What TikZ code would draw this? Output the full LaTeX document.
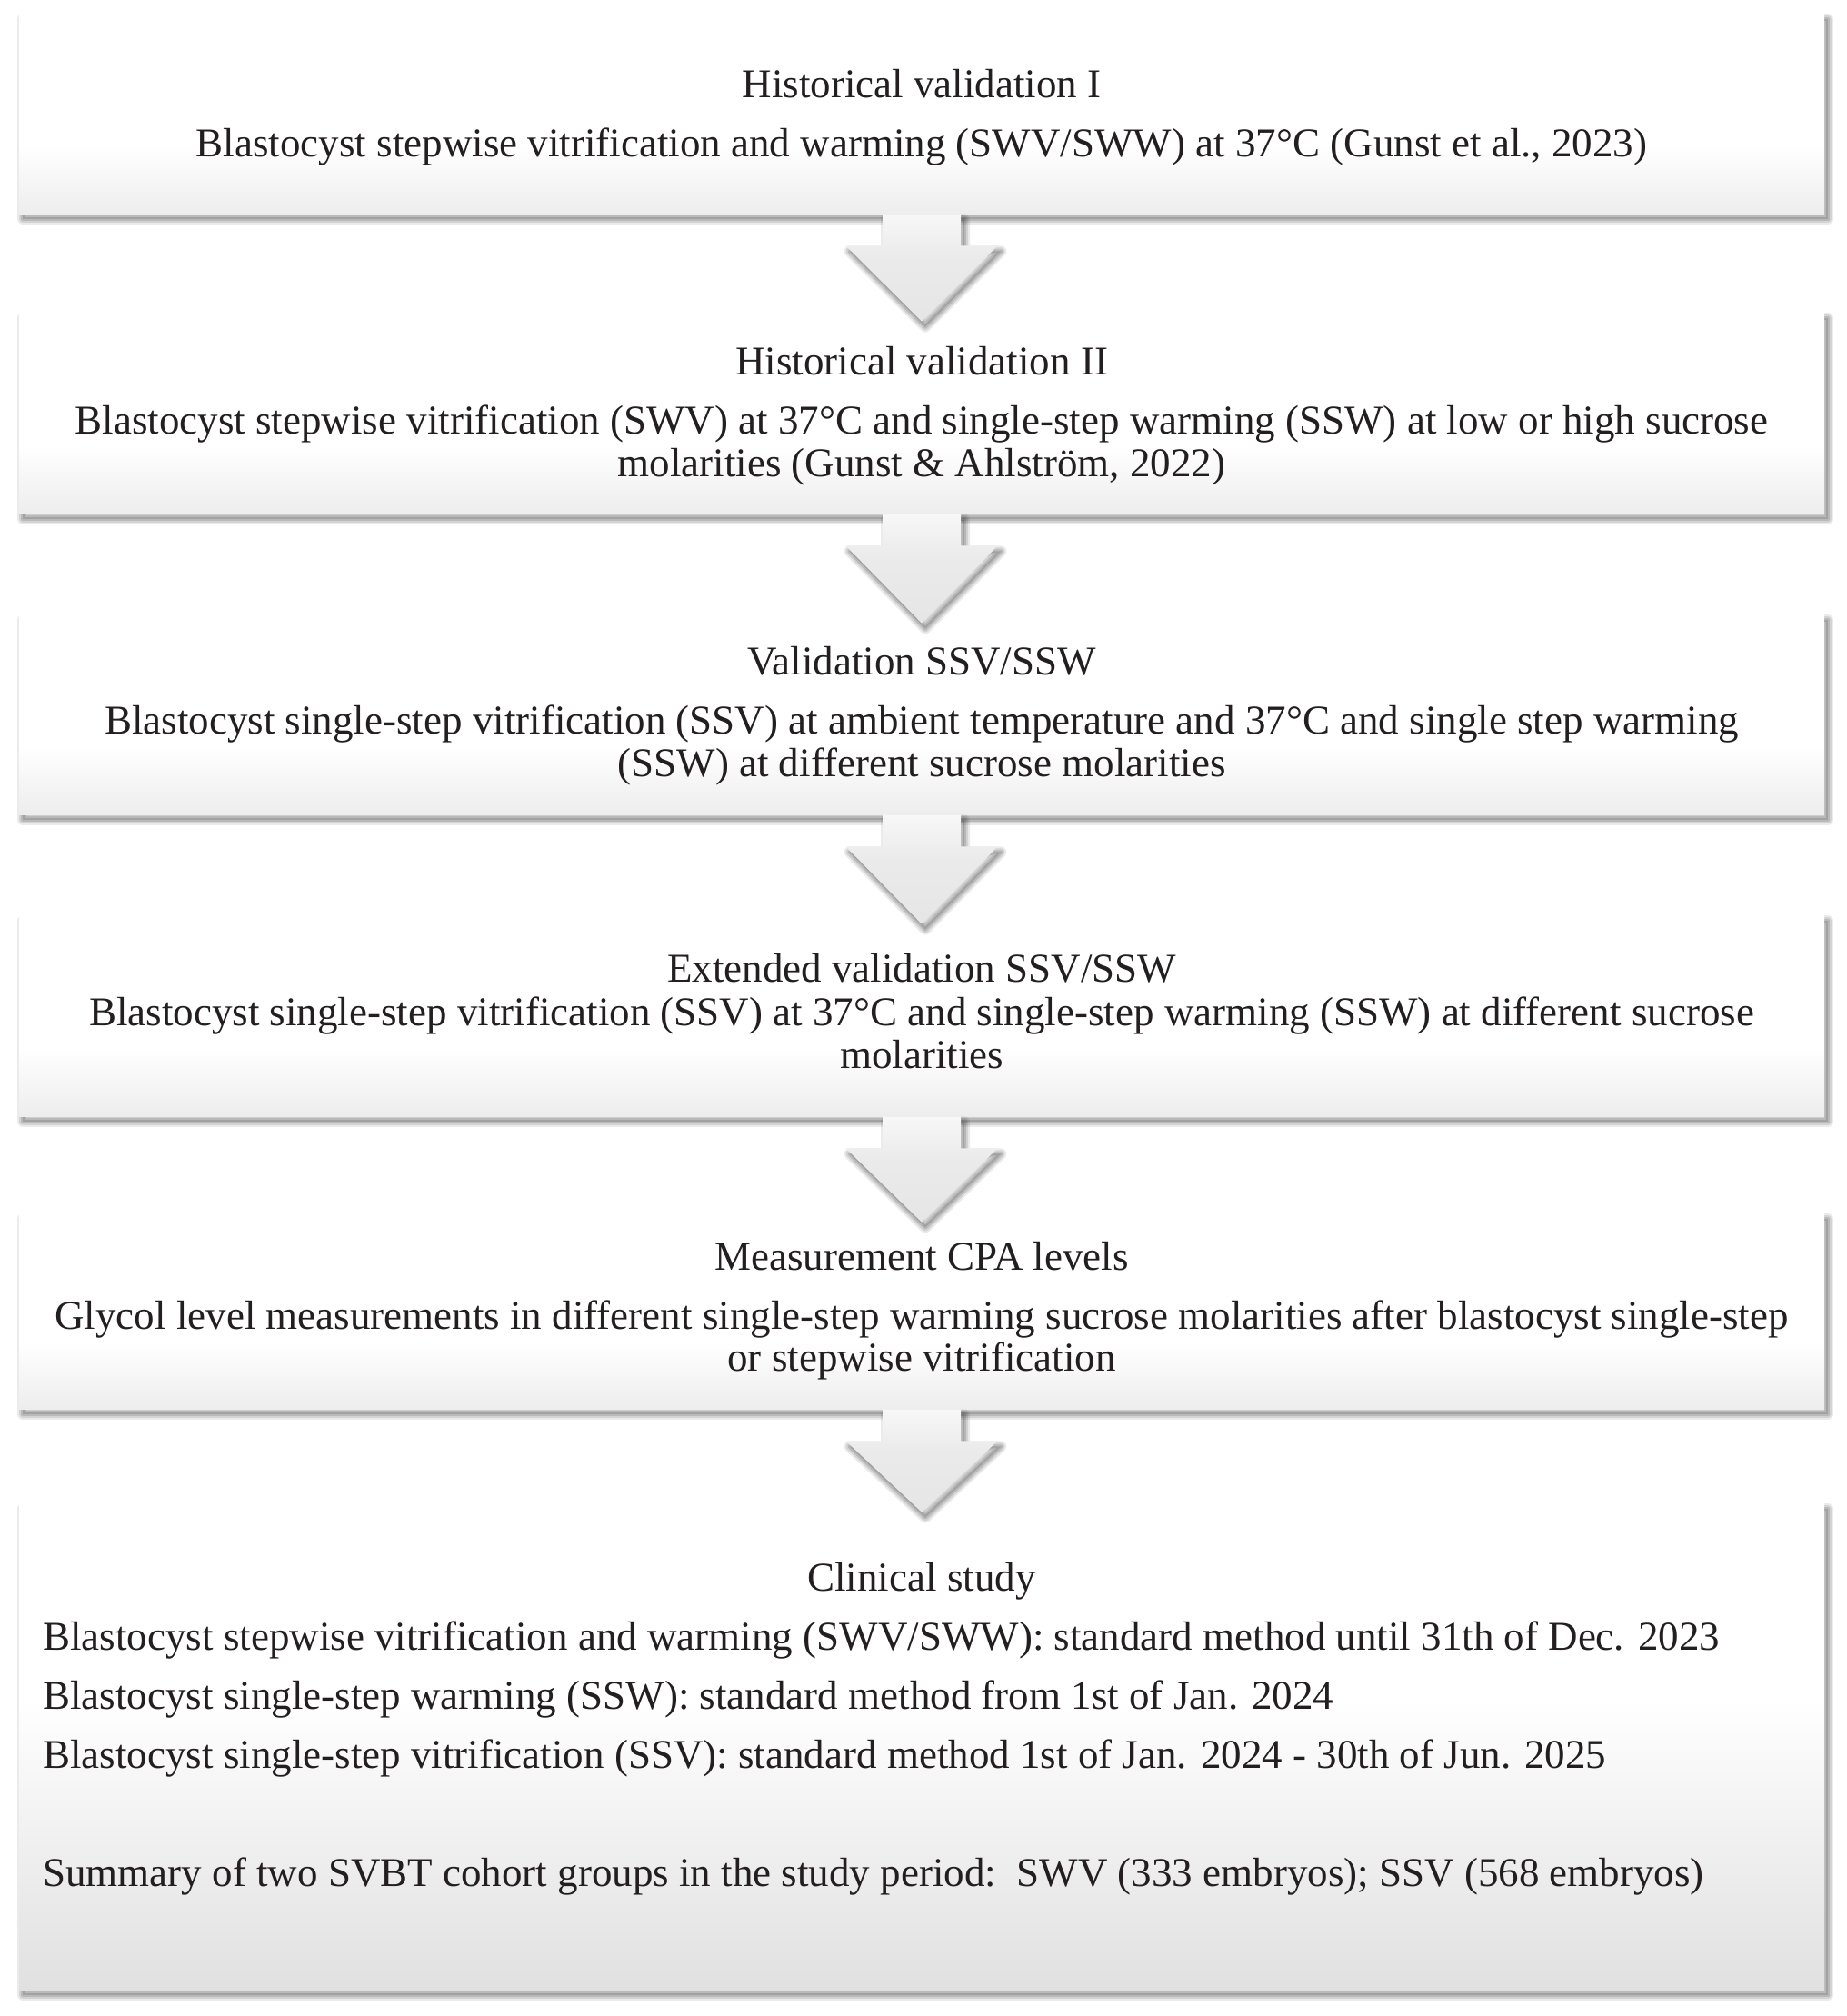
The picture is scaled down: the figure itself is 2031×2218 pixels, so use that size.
\documentclass[tikz,border=0pt]{standalone}
\usepackage{fontspec}
\setmainfont{Liberation Serif}
\usetikzlibrary{calc}
\definecolor{txtc}{HTML}{231F20}
\pgfdeclareverticalshading{stageshade}{100bp}{color(0bp)=(black!7); color(25bp)=(black!7); color(42bp)=(white); color(100bp)=(white)}
\pgfdeclareverticalshading{lastshade}{100bp}{color(0bp)=(black!12); color(25bp)=(black!12); color(55bp)=(white); color(100bp)=(white)}
\pgfdeclareverticalshading{flowshade}{100bp}{color(0bp)=(black!10); color(25bp)=(black!10); color(55bp)=(black!8); color(75bp)=(black!3); color(100bp)=(black!3)}
\begin{document}
\begin{tikzpicture}[x=0.5pt,y=-0.5pt,
  softshadow/.style={
    preaction={fill=black,opacity=0.12,transform canvas={shift={(2pt,-3pt)}}},
    preaction={draw=black,line width=2pt,line join=round,opacity=0.12,transform canvas={shift={(2pt,-3pt)}}},
    preaction={draw=black,line width=4pt,line join=round,opacity=0.10,transform canvas={shift={(2pt,-3pt)}}},
    preaction={draw=black,line width=6pt,line join=round,opacity=0.08,transform canvas={shift={(2pt,-3pt)}}}},
  stagebox/.style={rectangle,inner sep=0pt,minimum width=993pt,softshadow,shading=stageshade},
  lastbox/.style={rectangle,inner sep=0pt,minimum width=993pt,softshadow,shading=lastshade},
  flowshape/.style={softshadow,shading=flowshade},
  txt/.style={inner sep=0pt,anchor=base,text=txtc,font=\fontsize{22.5pt}{27pt}\selectfont},
  ltxt/.style={txt,anchor=base west}]
\useasboundingbox[fill=white] (0,0) rectangle (2031,2218);

% boxes
\node[stagebox,minimum height=110pt]   (b1) at (1014,125) {};
\node[stagebox,minimum height=110.5pt] (b2) at (1014,454.5) {};
\node[stagebox,minimum height=110pt]   (b3) at (1014,786) {};
\node[stagebox,minimum height=110.5pt] (b4) at (1014,1117.5) {};
\node[stagebox,minimum height=107.5pt] (b5) at (1014,1442.5) {};
\node[lastbox,minimum height=267.5pt]  (b6) at (1014,1921.5) {};

% arrows
\newcommand\flowarrow[2]{%
  \path[flowshape] ($(#1.south)+(-43,0)$) -- ($(#1.south)+(-43,35)$)
    -- ($(#1.south)+(-83.5,35)$) -- ($(#2.north)+(0,10)$)
    -- ($(#1.south)+(83.5,35)$) -- ($(#1.south)+(43,35)$)
    -- ($(#1.south)+(43,0)$) -- cycle;}
\flowarrow{b1}{b2}
\flowarrow{b2}{b3}
\flowarrow{b3}{b4}
\flowarrow{b4}{b5}
\flowarrow{b5}{b6}

% texts
\node[txt] (t1a) at (1014,107) {Historical validation I};
\node[txt] (t1b) at (1014,172) {Blastocyst stepwise vitrification and warming (SWV/SWW) at 37°C (Gunst et al., 2023)};

\node[txt] (t2a) at (1014,412) {Historical validation II};
\node[txt] (t2b) at (1014,477) {Blastocyst stepwise vitrification (SWV) at 37°C and single-step warming (SSW) at low or high sucrose};
\node[txt] (t2c) at (1014,524) {molarities (Gunst \& Ahlström, 2022)};

\node[txt] (t3a) at (1014,742) {Validation SSV/SSW};
\node[txt] (t3b) at (1014,807) {Blastocyst single-step vitrification (SSV) at ambient temperature and 37°C and single step warming};
\node[txt] (t3c) at (1014,854) {(SSW) at different sucrose molarities};

\node[txt] (t4a) at (1014,1080) {Extended validation SSV/SSW};
\node[txt] (t4b) at (1014,1128) {Blastocyst single-step vitrification (SSV) at 37°C and single-step warming (SSW) at different sucrose};
\node[txt] (t4c) at (1014,1175) {molarities};

\node[txt] (t5a) at (1014,1397) {Measurement CPA levels};
\node[txt] (t5b) at (1014,1462) {Glycol level measurements in different single-step warming sucrose molarities after blastocyst single-step};
\node[txt] (t5c) at (1014,1508) {or stepwise vitrification};

\node[txt] (t6a) at (1014,1750) {Clinical study};
\node[ltxt] (t6b) at (47,1815) {Blastocyst stepwise vitrification and warming (SWV/SWW): standard method until 31th of Dec. 2023};
\node[ltxt] (t6c) at (47,1880) {Blastocyst single-step warming (SSW): standard method from 1st of Jan. 2024};
\node[ltxt] (t6d) at (47,1945) {Blastocyst single-step vitrification (SSV): standard method 1st of Jan. 2024 - 30th of Jun. 2025};
\node[ltxt] (t6e) at (47,2075) {Summary of two SVBT cohort groups in the study period:\ \ SWV (333 embryos); SSV (568 embryos)};
\end{tikzpicture}
\end{document}
